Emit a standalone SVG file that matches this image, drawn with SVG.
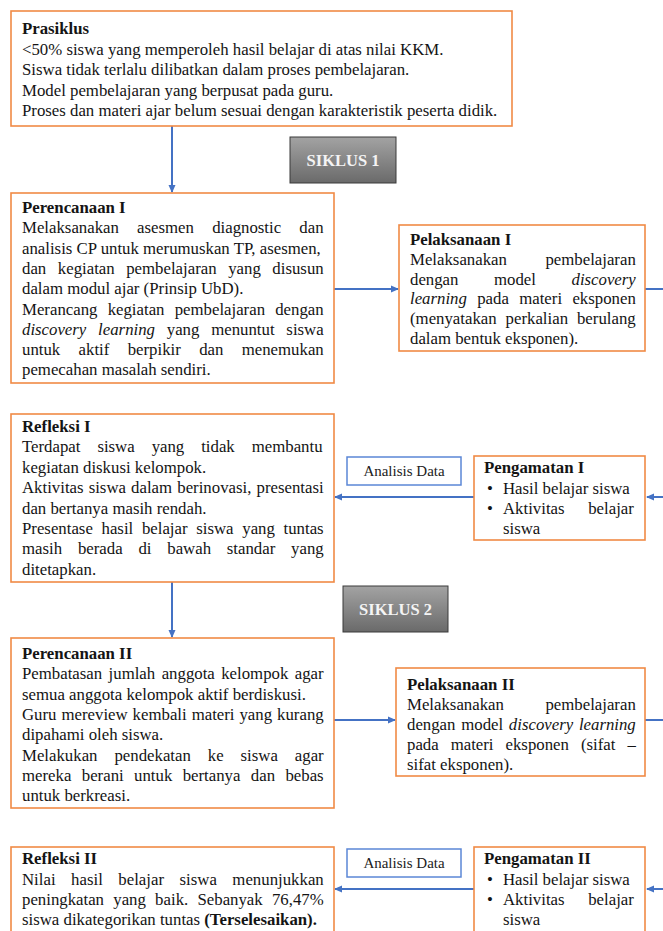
<svg xmlns="http://www.w3.org/2000/svg" width="663" height="931" viewBox="0 0 663 931">
<style>
.box{fill:#fff;stroke:#F08A45;stroke-width:1.6}
.t{font-family:"Liberation Serif","Times New Roman",serif;font-size:16.8px;fill:#141414}
.b{font-weight:bold}
.i{font-style:italic}
.adbox{fill:#fff;stroke:#5B87D6;stroke-width:1.5}
.ad{font-family:"Liberation Serif","Times New Roman",serif;font-size:15px;fill:#222;text-anchor:middle}
.sik{fill:url(#gray);stroke:#3a3a3a;stroke-width:1}
.sikt{font-family:"Liberation Serif","Times New Roman",serif;font-size:16.5px;font-weight:bold;fill:#f4f4f4;text-anchor:middle}
.conn{stroke:#4472C4;stroke-width:2;fill:none}
</style>
<defs>
<linearGradient id="gray" x1="0" y1="0" x2="0" y2="1">
<stop offset="0" stop-color="#a3a3a3"/>
<stop offset="1" stop-color="#6a6a6a"/>
</linearGradient>
<marker id="ah" markerWidth="8" markerHeight="8" refX="7" refY="4" orient="auto" markerUnits="userSpaceOnUse">
<path d="M0,0.5 L8,4 L0,7.5 z" fill="#4472C4"/>
</marker>
</defs>

<g id="connectors">
<line class="conn" x1="172" y1="126" x2="172" y2="192" marker-end="url(#ah)"/>
<line class="conn" x1="334" y1="289" x2="398" y2="289" marker-end="url(#ah)"/>
<line class="conn" x1="645" y1="289" x2="663" y2="289"/>
<line class="conn" x1="663" y1="497" x2="647" y2="497" marker-end="url(#ah)"/>
<line class="conn" x1="474" y1="497" x2="335" y2="497" marker-end="url(#ah)"/>
<line class="conn" x1="172" y1="582" x2="172" y2="637" marker-end="url(#ah)"/>
<line class="conn" x1="334" y1="720" x2="395" y2="720" marker-end="url(#ah)"/>
<line class="conn" x1="645" y1="720" x2="663" y2="720"/>
<line class="conn" x1="663" y1="889" x2="647" y2="889" marker-end="url(#ah)"/>
<line class="conn" x1="474" y1="889" x2="335" y2="889" marker-end="url(#ah)"/>
</g>

<g id="prasiklus">
<rect class="box" x="11" y="11" width="501" height="115"/>
<text class="t b" x="22" y="34">Prasiklus</text>
<text class="t" x="22" y="54.5">&lt;50% siswa yang memperoleh hasil belajar di atas nilai KKM.</text>
<text class="t" x="22" y="75">Siswa tidak terlalu dilibatkan dalam proses pembelajaran.</text>
<text class="t" x="22" y="95.5">Model pembelajaran yang berpusat pada guru.</text>
<text class="t" x="22" y="116">Proses dan materi ajar belum sesuai dengan karakteristik peserta didik.</text>
</g>

<g id="siklus1">
<rect class="sik" x="290" y="137" width="106" height="46"/>
<text class="sikt" x="343" y="166">SIKLUS 1</text>
</g>

<g id="perencanaan1">
<rect class="box" x="11" y="193" width="323" height="190"/>
<text class="t b" x="22" y="213">Perencanaan I</text>
<text class="t" x="22" y="233.3" word-spacing="14">Melaksanakan asesmen diagnostic dan</text>
<text class="t" x="22" y="253.6">analisis CP untuk merumuskan TP, asesmen,</text>
<text class="t" x="22" y="273.9" word-spacing="7.38">dan kegiatan pembelajaran yang disusun</text>
<text class="t" x="22" y="294.2">dalam modul ajar (Prinsip UbD).</text>
<text class="t" x="22" y="314.5" word-spacing="5.97">Merancang kegiatan pembelajaran dengan</text>
<text class="t" x="22" y="334.8" word-spacing="7.6"><tspan class="i">discovery learning</tspan> yang menuntut siswa</text>
<text class="t" x="22" y="355.1" word-spacing="14.15">untuk aktif berpikir dan menemukan</text>
<text class="t" x="22" y="375.4">pemecahan masalah sendiri.</text>
</g>

<g id="pelaksanaan1">
<rect class="box" x="399" y="225" width="246" height="126"/>
<text class="t b" x="410" y="245">Pelaksanaan I</text>
<text class="t" x="410" y="264.8" word-spacing="34.3">Melaksanakan pembelajaran</text>
<text class="t" x="410" y="284.6" word-spacing="31.35">dengan model <tspan class="i">discovery</tspan></text>
<text class="t" x="410" y="304.4" word-spacing="6.13"><tspan class="i">learning</tspan> pada materi eksponen</text>
<text class="t" x="410" y="324.2" word-spacing="4.75">(menyatakan perkalian berulang</text>
<text class="t" x="410" y="344">dalam bentuk eksponen).</text>
</g>

<g id="refleksi1">
<rect class="box" x="11" y="414" width="323" height="168"/>
<text class="t b" x="22" y="432">Refleksi I</text>
<text class="t" x="22" y="452.4" word-spacing="12.75">Terdapat siswa yang tidak membantu</text>
<text class="t" x="22" y="472.8">kegiatan diskusi kelompok.</text>
<text class="t" x="22" y="493.2" word-spacing="0.95">Aktivitas siswa dalam berinovasi, presentasi</text>
<text class="t" x="22" y="513.6">dan bertanya masih rendah.</text>
<text class="t" x="22" y="534" word-spacing="4.5">Presentase hasil belajar siswa yang tuntas</text>
<text class="t" x="22" y="554.4" word-spacing="11.6">masih berada di bawah standar yang</text>
<text class="t" x="22" y="574.8">ditetapkan.</text>
</g>

<g id="analisis1">
<rect class="adbox" x="347" y="457" width="114" height="28"/>
<text class="ad" x="404" y="476">Analisis Data</text>
</g>

<g id="pengamatan1">
<rect class="box" x="474" y="456" width="171" height="84"/>
<text class="t b" x="484" y="473">Pengamatan I</text>
<text class="t" x="487" y="493.5">•</text>
<text class="t" x="503" y="493.5">Hasil belajar siswa</text>
<text class="t" x="487" y="513.5">•</text>
<text class="t" x="503" y="513.5" word-spacing="19.5">Aktivitas belajar</text>
<text class="t" x="503" y="533.5">siswa</text>
</g>

<g id="siklus2">
<rect class="sik" x="343" y="586" width="105" height="46"/>
<text class="sikt" x="395.5" y="615">SIKLUS 2</text>
</g>

<g id="perencanaan2">
<rect class="box" x="11" y="638" width="323" height="170"/>
<text class="t b" x="22" y="659">Perencanaan II</text>
<text class="t" x="22" y="679.3" word-spacing="2.25">Pembatasan jumlah anggota kelompok agar</text>
<text class="t" x="22" y="699.6">semua anggota kelompok aktif berdiskusi.</text>
<text class="t" x="22" y="719.9" word-spacing="0.78">Guru mereview kembali materi yang kurang</text>
<text class="t" x="22" y="740.2">dipahami oleh siswa.</text>
<text class="t" x="22" y="760.5" word-spacing="12.75">Melakukan pendekatan ke siswa agar</text>
<text class="t" x="22" y="780.8" word-spacing="6.18">mereka berani untuk bertanya dan bebas</text>
<text class="t" x="22" y="801.1">untuk berkreasi.</text>
</g>

<g id="pelaksanaan2">
<rect class="box" x="396" y="668" width="249" height="108"/>
<text class="t b" x="407" y="690">Pelaksanaan II</text>
<text class="t" x="407" y="710" word-spacing="37.3">Melaksanakan pembelajaran</text>
<text class="t" x="407" y="730" word-spacing="1.53">dengan model <tspan class="i">discovery learning</tspan></text>
<text class="t" x="407" y="750" word-spacing="7.8">pada materi eksponen (sifat –</text>
<text class="t" x="407" y="770">sifat eksponen).</text>
</g>

<g id="refleksi2">
<rect class="box" x="11" y="847" width="323" height="90"/>
<text class="t b" x="22" y="864">Refleksi II</text>
<text class="t" x="22" y="884.5" word-spacing="11.35">Nilai hasil belajar siswa menunjukkan</text>
<text class="t" x="22" y="904.5" word-spacing="5.05">peningkatan yang baik. Sebanyak 76,47%</text>
<text class="t" x="22" y="924.5">siswa dikategorikan tuntas <tspan class="b">(Terselesaikan).</tspan></text>
</g>

<g id="analisis2">
<rect class="adbox" x="347" y="849" width="114" height="28"/>
<text class="ad" x="404" y="868">Analisis Data</text>
</g>

<g id="pengamatan2">
<rect class="box" x="474" y="847" width="171" height="90"/>
<text class="t b" x="484" y="864">Pengamatan II</text>
<text class="t" x="487" y="884.5">•</text>
<text class="t" x="503" y="884.5">Hasil belajar siswa</text>
<text class="t" x="487" y="904.5">•</text>
<text class="t" x="503" y="904.5" word-spacing="19.5">Aktivitas belajar</text>
<text class="t" x="503" y="924.5">siswa</text>
</g>
</svg>
